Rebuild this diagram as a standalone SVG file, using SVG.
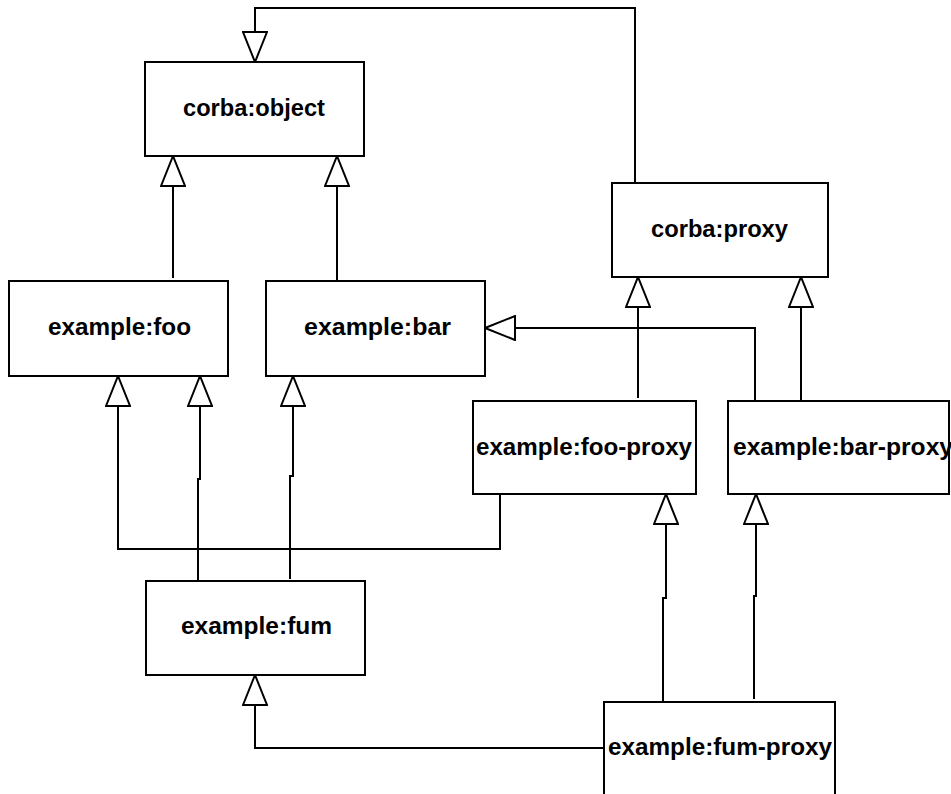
<svg xmlns="http://www.w3.org/2000/svg" width="951" height="794" viewBox="0 0 951 794">
<style>
.box{fill:#fff;stroke:#000;stroke-width:2}
.lbl{font-family:"Liberation Sans",Arial,sans-serif;font-weight:bold;font-size:23px;fill:#000}
.con{fill:none;stroke:#000;stroke-width:2;marker-end:url(#tri)}
</style>
<defs>
<marker id="tri" markerUnits="userSpaceOnUse" markerWidth="32" markerHeight="26" viewBox="-1 -1 32 26" refX="30" refY="12" orient="auto">
<path d="M0,0 L30,12 L0,24 Z" fill="#fff" stroke="#000" stroke-width="2" stroke-linejoin="miter"/>
</marker>
</defs>
<rect width="951" height="794" fill="#fff"/>
<g id="connectors">
<path class="con" d="M635,183 V8 H255 V62"/>
<path class="con" d="M173,278 V156"/>
<path class="con" d="M337,294 V156"/>
<path class="con" d="M638,398 V277"/>
<path class="con" d="M801,413 V277"/>
<path class="con" d="M755,401 V328 H485"/>
<path class="con" d="M500,494 V549 H118 V376"/>
<path class="con" d="M198,583 V479 H200 V376"/>
<path class="con" d="M290,579 V476 H293 V376"/>
<path class="con" d="M663,705 V598 H666 V494"/>
<path class="con" d="M754,699 V596 H756 V494"/>
<path class="con" d="M604,748 H255 V675"/>
</g>
<g id="corba-object"><rect class="box" x="145" y="62" width="219" height="94"/><text class="lbl" x="183" y="116" textLength="142" lengthAdjust="spacingAndGlyphs">corba:object</text></g>
<g id="corba-proxy"><rect class="box" x="612" y="183" width="216" height="94"/><text class="lbl" x="651" y="237" textLength="137" lengthAdjust="spacingAndGlyphs">corba:proxy</text></g>
<g id="example-foo"><rect class="box" x="9" y="281" width="219" height="95"/><text class="lbl" x="48" y="335" textLength="143" lengthAdjust="spacingAndGlyphs">example:foo</text></g>
<g id="example-bar"><rect class="box" x="266" y="281" width="219" height="95"/><text class="lbl" x="304" y="335" textLength="147" lengthAdjust="spacingAndGlyphs">example:bar</text></g>
<g id="example-foo-proxy"><rect class="box" x="473" y="401" width="223" height="93"/><text class="lbl" x="476" y="455" textLength="216" lengthAdjust="spacingAndGlyphs">example:foo-proxy</text></g>
<g id="example-bar-proxy"><rect class="box" x="728" y="401" width="221" height="93"/><text class="lbl" x="733" y="455" textLength="220" lengthAdjust="spacingAndGlyphs">example:bar-proxy</text></g>
<g id="example-fum"><rect class="box" x="146" y="581" width="219" height="94"/><text class="lbl" x="181" y="634" textLength="151" lengthAdjust="spacingAndGlyphs">example:fum</text></g>
<g id="example-fum-proxy"><rect class="box" x="604" y="702" width="231" height="100"/><text class="lbl" x="608" y="755" textLength="224" lengthAdjust="spacingAndGlyphs">example:fum-proxy</text></g>
</svg>
